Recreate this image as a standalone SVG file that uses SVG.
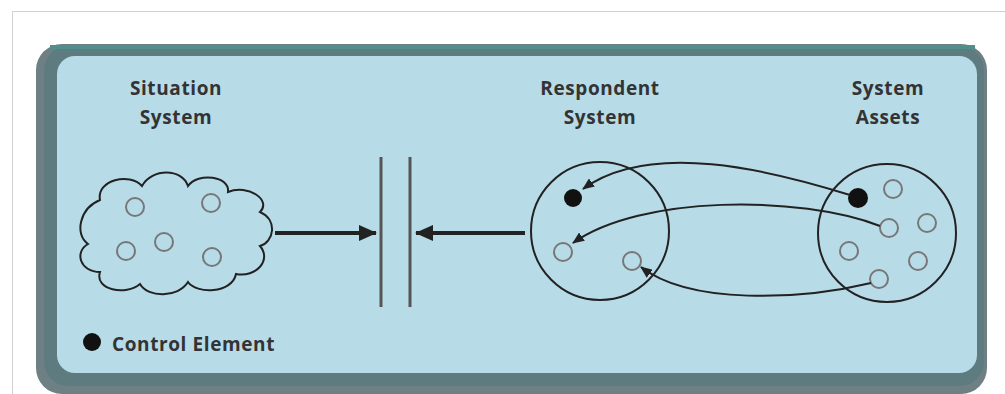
<svg xmlns="http://www.w3.org/2000/svg" width="1005" height="394" viewBox="0 0 1005 394">
<style>
.lbl{font-family:"Open Sans","Liberation Sans",sans-serif;font-weight:bold;font-size:19px;letter-spacing:0.6px;fill:#333;text-anchor:middle}
.el{fill:none;stroke:#777;stroke-width:2}
.ctl{fill:#111}
.ln{fill:none;stroke:#222;stroke-width:2}
.big{fill:none;stroke:#222;stroke-width:2}
.bar{stroke:#555;stroke-width:3}
.thick{stroke:#222;stroke-width:4}
</style>
<defs>
<marker id="ah" markerWidth="12" markerHeight="10" refX="11" refY="5" orient="auto" markerUnits="userSpaceOnUse"><path d="M0,0 L12,5 L0,10 z" fill="#222"/></marker>
<marker id="ahb" markerWidth="18" markerHeight="16" refX="17" refY="8" orient="auto" markerUnits="userSpaceOnUse"><path d="M0,0 L18,8 L0,16 z" fill="#222"/></marker>
</defs>
<rect width="1005" height="394" fill="#fff"/>
<path d="M12.5,394 V11.5 H1005" fill="none" stroke="#d0d0d0" stroke-width="1"/>
<g id="panel">
<rect x="36" y="44" width="951" height="350" rx="26" fill="#6f8085"/>
<rect x="44" y="46" width="940" height="340" rx="24" fill="#5e7b80"/>
<rect x="50" y="45" width="925" height="4" fill="#4f8f8c"/>
<rect x="57" y="56" width="920" height="317" rx="18" fill="#b8dbe8"/>
</g>
<g id="situation">
<text class="lbl" x="176" y="95">Situation</text>
<text class="lbl" x="176" y="124">System</text>
<path class="big" d="M100,200 C96,180 130,172 142,186 C152,168 182,168 188,186 C198,172 230,176 228,192 C248,184 272,200 260,212 C278,220 274,242 260,246 C272,260 256,278 236,274 C232,294 196,294 188,282 C178,298 148,298 140,284 C126,296 94,290 100,272 C80,272 74,252 88,244 C74,234 80,208 100,200 Z"/>
<circle class="el" cx="135" cy="207" r="9"/>
<circle class="el" cx="211" cy="203" r="9"/>
<circle class="el" cx="126" cy="251" r="9"/>
<circle class="el" cx="164" cy="242" r="9"/>
<circle class="el" cx="212" cy="257" r="9"/>
</g>
<g id="interface">
<line class="bar" x1="381" y1="157" x2="381" y2="307"/>
<line class="bar" x1="410" y1="157" x2="410" y2="307"/>
</g>
<g id="respondent">
<text class="lbl" x="600" y="95">Respondent</text>
<text class="lbl" x="600" y="124">System</text>
<circle class="big" cx="600" cy="231" r="69"/>
<circle class="ctl" cx="573" cy="198" r="9"/>
<circle class="el" cx="563" cy="252" r="9"/>
<circle class="el" cx="632" cy="261" r="9"/>
</g>
<g id="assets">
<text class="lbl" x="888" y="95">System</text>
<text class="lbl" x="888" y="124">Assets</text>
<circle class="big" cx="887" cy="233" r="69"/>
<circle class="ctl" cx="858" cy="198" r="10"/>
<circle class="el" cx="893" cy="189" r="9"/>
<circle class="el" cx="889" cy="228" r="9"/>
<circle class="el" cx="927" cy="223" r="9"/>
<circle class="el" cx="849" cy="251" r="9"/>
<circle class="el" cx="918" cy="261" r="9"/>
<circle class="el" cx="879" cy="279" r="9"/>
</g>
<g id="legend">
<circle class="ctl" cx="92" cy="342" r="9"/>
<text class="lbl" x="112" y="351" style="text-anchor:start">Control Element</text>
</g>
<g id="connectors">
<line class="thick" x1="275" y1="233" x2="376" y2="233" marker-end="url(#ahb)"/>
<line class="thick" x1="525" y1="233" x2="416" y2="233" marker-end="url(#ahb)"/>
<path class="ln" d="M850,195 C770,170 650,140 583,189" marker-end="url(#ah)"/>
<path class="ln" d="M880,226 C800,195 640,195 573,243" marker-end="url(#ah)"/>
<path class="ln" d="M871,283 C800,300 690,305 641,267" marker-end="url(#ah)"/>
</g>
</svg>
